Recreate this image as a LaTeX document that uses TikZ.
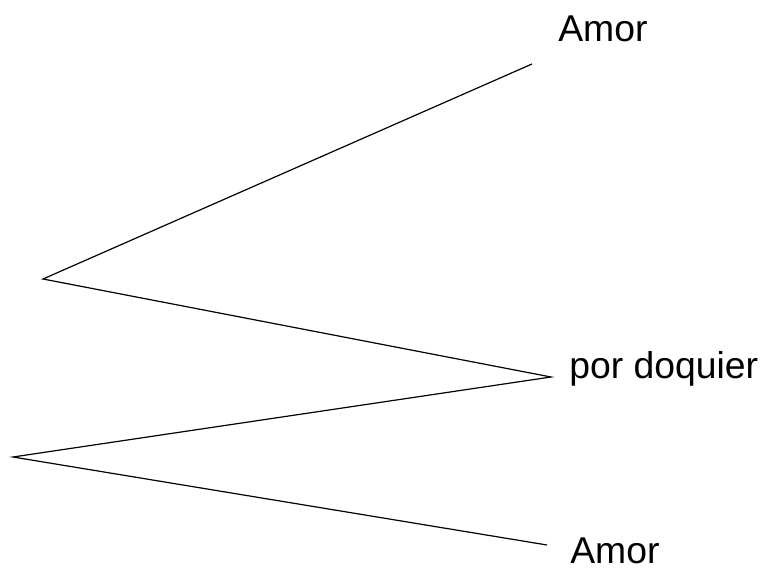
\documentclass[tikz,border=0pt]{standalone}
\usepackage{fontspec}
\setmainfont{Liberation Sans}
\usetikzlibrary{positioning}
\tikzset{rama/.style={line width=0.9pt}, hoja/.style={font=\fontsize{28}{32}\selectfont, inner sep=0pt, anchor=base west}}

\begin{document}
\begin{tikzpicture}[x=0.75pt, y=-0.75pt]
        \useasboundingbox (0,0) rectangle (764,573);
        \coordinate (raiz-arriba) at (43,279);
        \coordinate (raiz-abajo) at (13,457);
        \coordinate (fin-amor) at (532,64);
        \coordinate (fin-doquier) at (551,377);
        \coordinate (fin-amor-bajo) at (547,545);
        \node[hoja] (amor) at (558,42) {Amor};
        \node[hoja] (doquier) at (569,379) {por doquier};
        \node[hoja] (amor-bajo) at (570,563) {Amor};
        \draw[rama] (fin-amor) -- (raiz-arriba) -- (fin-doquier)
            -- (raiz-abajo) -- (fin-amor-bajo);
    \end{tikzpicture}
\end{document}
